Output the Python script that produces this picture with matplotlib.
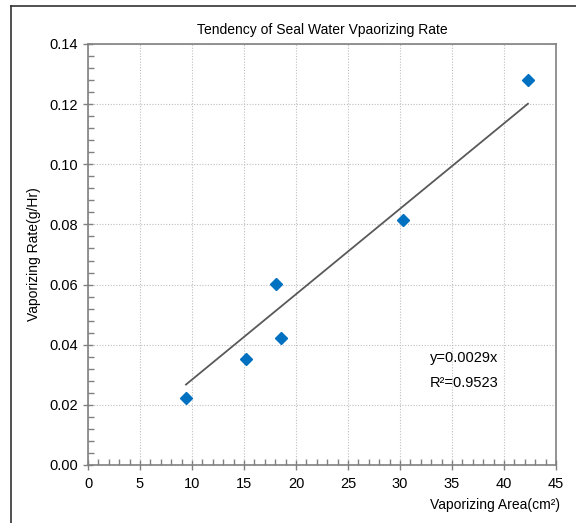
import matplotlib
matplotlib.use("Agg")
import matplotlib.pyplot as plt
import numpy as np
from matplotlib.lines import Line2D
from matplotlib.ticker import MultipleLocator

# measured points
area = [9.42, 15.19, 18.08, 18.56, 30.29, 42.3]
rate = [0.0223, 0.0353, 0.0602, 0.0422, 0.0815, 0.128]
eq_text = "y=0.0029x"
r2_text = "R\u00b2=0.9523"

plt.rcParams["font.family"] = ["Liberation Sans", "DejaVu Sans"]

fig = plt.figure(figsize=(5.76, 5.23), dpi=100)
ax = fig.add_axes([0.1528, 0.1109, 0.8125, 0.805])

# trend line through origin
x = np.array(area)
y = np.array(rate)
slope = np.sum(x * y) / np.sum(x * x)
xs = np.array([x.min(), x.max()])
ax.plot(xs, slope * xs, color="#595959", lw=1.3, zorder=2)

ax.plot(area, rate, "D", color="#0070C0", markersize=6, zorder=3)

ax.set_xlim(0, 45)
ax.set_ylim(0, 0.14)
ax.xaxis.set_major_locator(MultipleLocator(5))
ax.xaxis.set_minor_locator(MultipleLocator(1))
ax.yaxis.set_major_locator(MultipleLocator(0.02))
ax.yaxis.set_minor_locator(MultipleLocator(0.004))
ax.yaxis.set_major_formatter(plt.FormatStrFormatter("%.2f"))

ax.tick_params(which="major", direction="inout", length=7, color="#808080",
               labelsize=10.5, width=1)
ax.tick_params(which="minor", direction="in", length=4, color="#808080", width=1)
ax.tick_params(axis="x", pad=5)

ax.grid(True, which="major", ls=(0, (1, 1.5)), color="#BFBFBF", lw=0.8)
for s in ax.spines.values():
    s.set_color("#808080")
    s.set_linewidth(1.2)

ax.set_title("Tendency of Seal Water Vpaorizing Rate", fontsize=10, pad=7)
ax.set_ylabel("Vaporizing Rate(g/Hr)", fontsize=10, labelpad=6)
fig.text(0.972, 0.027, "Vaporizing Area(cm\u00b2)", ha="right", fontsize=10)

ax.text(32.9, 0.0356, eq_text, fontsize=10.5, va="center")
ax.text(32.9, 0.0273, r2_text, fontsize=10.5, va="center")

# outer frame (partly cropped in the original)
fig.add_artist(Line2D([11 / 576, 11 / 576], [0, 1 - 6 / 523], color="#333333", lw=1.2))
fig.add_artist(Line2D([11 / 576, 1], [1 - 6 / 523, 1 - 6 / 523], color="#333333", lw=1.2))

fig.savefig("out.png", dpi=100)
